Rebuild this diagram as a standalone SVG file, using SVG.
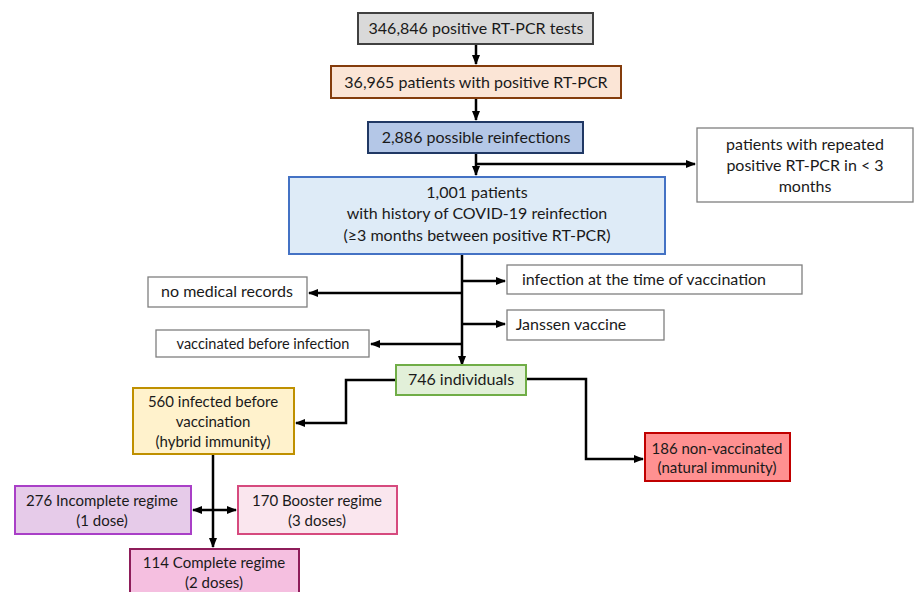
<svg xmlns="http://www.w3.org/2000/svg" width="914" height="592" viewBox="0 0 914 592">
<defs>
<marker id="ah" viewBox="0 0 10 10" refX="9" refY="5" markerWidth="4" markerHeight="4" orient="auto-start-reverse" markerUnits="strokeWidth">
<path d="M0,1 L10,5 L0,9 Z" fill="#000"/>
</marker>
<style>
text{font-family:Lato,"Liberation Sans",sans-serif;font-size:16px;fill:#1a1a1a;text-anchor:middle}
.s{font-size:15px}
.t{font-size:14.5px}
rect{stroke-width:2}
.c path{fill:none;stroke:#000;stroke-width:2.5}
.w{fill:#fff;stroke:#7f7f7f;stroke-width:1.3}
</style>
</defs>
<rect width="914" height="592" fill="#fff"/>
<g class="c">
<path d="M476,44 V64" marker-end="url(#ah)"/>
<path d="M476,98 V120" marker-end="url(#ah)"/>
<path d="M476,153 V175" marker-end="url(#ah)"/>
<path d="M476,164 H695" marker-end="url(#ah)"/>
<path d="M462,254 V365" marker-end="url(#ah)"/>
<path d="M462,281 H505" marker-end="url(#ah)"/>
<path d="M462,293 H309" marker-end="url(#ah)"/>
<path d="M462,324 H505" marker-end="url(#ah)"/>
<path d="M462,344 H371" marker-end="url(#ah)"/>
<path d="M396,380 H346 V423 H296" marker-end="url(#ah)"/>
<path d="M526,379 H586 V459 H643" marker-end="url(#ah)"/>
<path d="M213,454 V547" marker-end="url(#ah)"/>
<path d="M193,510 H236" marker-start="url(#ah)" marker-end="url(#ah)"/>
</g>
<g id="n1"><rect x="358" y="13" width="235" height="31" fill="#d9d9d9" stroke="#404040"/><text x="476" y="34">346,846 positive RT-PCR tests</text></g>
<g id="n2"><rect x="331" y="66" width="290" height="32" fill="#fbe5d6" stroke="#843c0c"/><text x="476" y="88">36,965 patients with positive RT-PCR</text></g>
<g id="n3"><rect x="368" y="122" width="215" height="31" fill="#b4c7e7" stroke="#203864"/><text x="476" y="143">2,886 possible reinfections</text></g>
<g id="n4"><rect x="697" y="128" width="216" height="74" class="w"/><text x="805" y="150">patients with repeated</text><text x="805" y="171">positive RT-PCR in &lt; 3</text><text x="805" y="192">months</text></g>
<g id="n5"><rect x="289" y="177" width="376" height="77" fill="#deebf7" stroke="#4472c4"/><text x="477" y="198">1,001 patients</text><text x="477" y="219">with history of COVID-19 reinfection</text><text x="477" y="241">(≥3 months between positive RT-PCR)</text></g>
<g id="n6"><rect x="507" y="265" width="295" height="29" class="w"/><text x="644" y="285">infection at the time of vaccination</text></g>
<g id="n7"><rect x="148" y="277" width="159" height="30" class="w"/><text x="227" y="297">no medical records</text></g>
<g id="n8"><rect x="507" y="310" width="157" height="30" class="w"/><text x="571" y="330">Janssen vaccine</text></g>
<g id="n9"><rect x="156" y="330" width="213" height="27" class="w"/><text class="t" x="263" y="349">vaccinated before infection</text></g>
<g id="n10"><rect x="396" y="365" width="130" height="30" fill="#e2f0d9" stroke="#70ad47"/><text x="461" y="385">746 individuals</text></g>
<g id="n11"><rect x="133" y="388" width="161" height="66" fill="#fff2cc" stroke="#bf9000"/><text class="s" x="213" y="407">560 infected before</text><text class="s" x="213" y="427">vaccination</text><text class="s" x="213" y="447">(hybrid immunity)</text></g>
<g id="n12"><rect x="645" y="433" width="145" height="48" fill="#ff9191" stroke="#c00000"/><text class="s" x="717" y="454">186 non-vaccinated</text><text class="s" x="717" y="473">(natural immunity)</text></g>
<g id="n13"><rect x="15" y="486" width="176" height="48" fill="#e6cbe9" stroke="#a93fc7"/><text class="s" x="102" y="506">276 Incomplete regime</text><text class="s" x="102" y="526">(1 dose)</text></g>
<g id="n14"><rect x="238" y="486" width="159" height="48" fill="#fae6ee" stroke="#d64a7e"/><text class="s" x="317" y="506">170 Booster regime</text><text class="s" x="317" y="526">(3 doses)</text></g>
<g id="n15"><rect x="130" y="549" width="169" height="52" fill="#f5bfe0" stroke="#8e1d5a"/><text class="s" x="214" y="568">114 Complete regime</text><text class="s" x="214" y="588">(2 doses)</text></g>
</svg>
